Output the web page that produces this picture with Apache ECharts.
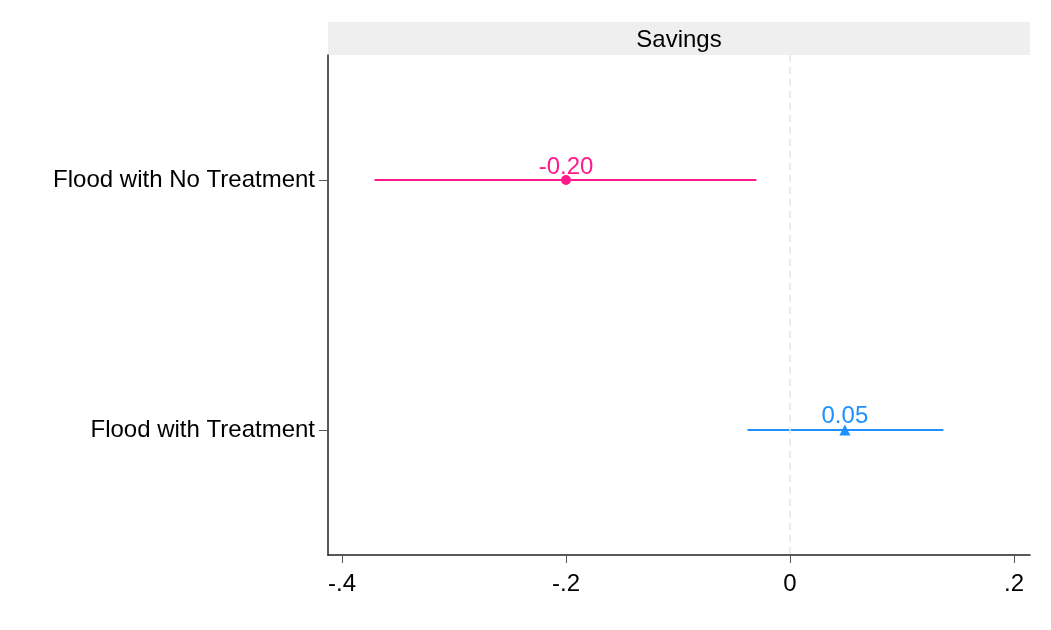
<!DOCTYPE html>
<html>
<head>
<meta charset="utf-8">
<script src="https://cdn.jsdelivr.net/npm/echarts@6/dist/echarts.min.js"></script>
<style>
html,body{margin:0;padding:0;background:#fff;}
#c{width:1051px;height:630px;}
</style>
</head>
<body>
<div id="c"></div>
<script>
var panelTitle = 'Savings';
var categories = ['Flood with No Treatment', 'Flood with Treatment'];
var estimates = [-0.20, 0.049];
var ciLow = [-0.371, -0.038];
var ciHigh = [-0.030, 0.137];
var colors = ['#ff1a8c', '#1e90ff'];
var symbols = ['circle', 'triangle'];
var tickValues = [-0.4, -0.2, 0, 0.2];
var tickLabels = ['-.4', '-.2', '0', '.2'];

var chart = echarts.init(document.getElementById('c'));
var series = [];
categories.forEach(function (cat, i) {
  series.push({
    type: 'line',
    data: [[ciLow[i], cat], [ciHigh[i], cat]],
    showSymbol: false,
    symbol: 'none',
    lineStyle: { color: colors[i], width: 2 },
    silent: true,
    z: 2
  });
  series.push({
    type: 'scatter',
    data: [[estimates[i], cat]],
    symbol: symbols[i],
    symbolSize: symbols[i] === 'circle' ? 10 : 11,
    itemStyle: { color: colors[i], opacity: 1 },
    label: {
      show: true,
      position: 'top',
      distance: -4,
      color: colors[i],
      fontSize: 24,
      fontFamily: 'Liberation Sans',
      formatter: function (p) { return p.value[0].toFixed(2); }
    },
    emphasis: { disabled: true },
    z: 3
  });
});
series.push({
  type: 'line',
  data: [],
  z: 1,
  markLine: {
    silent: true,
    symbol: 'none',
    label: { show: false },
    lineStyle: { color: '#e6e6e6', type: [7, 5], width: 1.5 },
    data: [{ xAxis: 0 }]
  }
});

chart.setOption({
  animation: false,
  backgroundColor: '#ffffff',
  grid: { left: 328, right: 21, top: 55, bottom: 75, containLabel: false },
  graphic: [
    { type: 'rect', shape: { x: 328, y: 22, width: 702, height: 33 }, style: { fill: '#efefef' }, z: 0 },
    { type: 'text', x: 679, y: 40, style: { text: panelTitle, fill: '#000', font: '24px "Liberation Sans"', textAlign: 'center', textVerticalAlign: 'middle' }, z: 1 }
  ],
  xAxis: {
    type: 'value',
    min: -0.4125,
    max: 0.2143,
    splitLine: { show: false },
    axisLine: { show: true, onZero: false, lineStyle: { color: '#222', width: 1.5 } },
    axisTick: { show: true, length: 8, customValues: tickValues, lineStyle: { color: '#555', width: 1 } },
    axisLabel: {
      customValues: tickValues,
      fontSize: 24, color: '#000', fontFamily: 'Liberation Sans', margin: 17,
      formatter: function (v) {
        var idx = tickValues.findIndex(function (t) { return Math.abs(t - v) < 1e-9; });
        return idx >= 0 ? tickLabels[idx] : '';
      }
    }
  },
  yAxis: {
    type: 'category',
    data: categories,
    inverse: true,
    boundaryGap: true,
    axisLine: { show: true, onZero: false, lineStyle: { color: '#222', width: 1.5 } },
    axisTick: { show: true, length: 9, alignWithLabel: true, lineStyle: { color: '#555', width: 1 } },
    axisLabel: { fontSize: 24, color: '#000', fontFamily: 'Liberation Sans', margin: 13, padding: [9, 0, 0, 0] },
    splitLine: { show: false }
  },
  series: series
});
</script>
</body>
</html>
